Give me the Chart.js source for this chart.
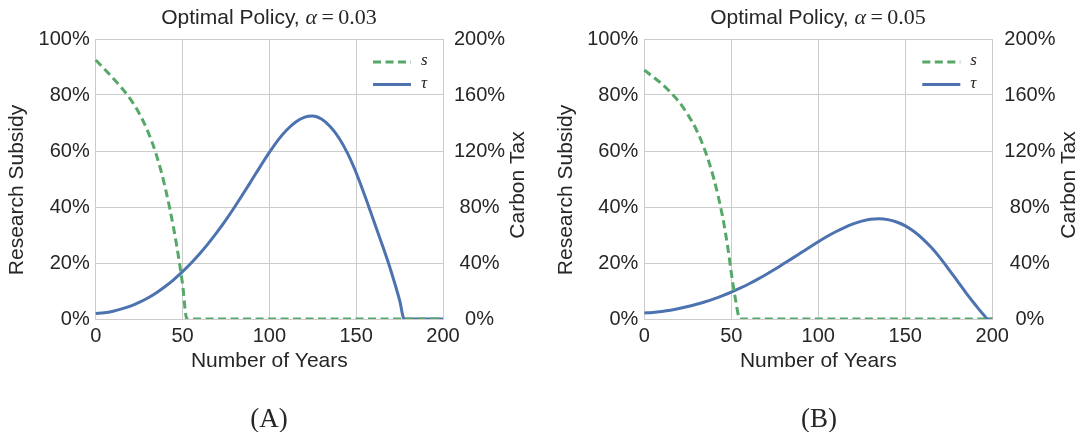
<!DOCTYPE html>
<html>
<head>
<meta charset="utf-8">
<script src="https://cdn.jsdelivr.net/npm/chart.js@4.4.1/dist/chart.umd.min.js"></script>
<style>
html,body{margin:0;padding:0;background:#fff;width:1081px;height:432px;overflow:hidden;}
.panel{position:absolute;top:0;height:432px;}
.panel canvas{position:absolute;top:0;left:0;}
.title{position:absolute;top:4px;white-space:nowrap;transform:translateX(-50%);font-family:'Liberation Sans',Arial,sans-serif;font-size:21px;color:#262626;line-height:26px;}
.title .m{font-family:'Liberation Serif','Times New Roman',serif;font-size:22px;}
.title .mi{font-family:'Liberation Serif','Times New Roman',serif;font-size:22px;font-style:italic;}
.cap{position:absolute;top:403px;transform:translateX(-50%);font-family:'Liberation Serif','Times New Roman',serif;font-size:27px;line-height:30px;color:#262626;white-space:nowrap;}
</style>
</head>
<body>
<div class="panel" id="pA" style="left:0;width:540px;"><canvas id="cA" width="540" height="432"></canvas></div>
<div class="panel" id="pB" style="left:540px;width:541px;"><canvas id="cB" width="541" height="432"></canvas></div>
<div class="title" id="tA" style="left:269px;"></div>
<div class="title" id="tB" style="left:818px;"></div>
<div class="cap" id="capA" style="left:269px;"></div>
<div class="cap" id="capB" style="left:819px;"></div>
<script>
// ---------- data ----------
const xTicks = [0, 50, 100, 150, 200];
const subsidyTicks = [0, 20, 40, 60, 80, 100];
const taxTicks = [0, 40, 80, 120, 160, 200];
const alphas = ['0.03', '0.05'];
const panelLabels = ['(A)', '(B)'];
const seriesLabels = ['s', 'τ'];
const titleText = 'Optimal Policy, ';
const xTitle = 'Number of Years';
const leftTitle = 'Research Subsidy';
const rightTitle = 'Carbon Tax';

// Panel A (alpha = 0.03)
const sYearsA = [0, 5, 10, 15, 20, 25, 30, 35, 40, 45, 48, 50, 52.5, 200];
const sValuesA = [92.5, 89.3, 86, 82.5, 78.5, 73.5, 67, 58.5, 47, 32, 21, 12.5, 0, 0];
const tauYearsA = [0, 5, 10, 15, 20, 25, 30, 35, 40, 45, 50, 55, 60, 65, 70, 75, 80, 85, 90, 95, 100,
  105, 110, 115, 120, 125, 130, 135, 140, 145, 150, 155, 160, 165, 170, 175, 177.7, 200];
const tauValuesA = [4, 4.5, 5.6, 7.2, 9.2, 11.8, 15, 18.8, 23.2, 28.2, 33.8, 40, 46.8, 54.2, 62.2, 70.8, 80, 89.6, 99.5, 109.4, 119,
  127.8, 135, 140.5, 144, 145, 142.8, 137.5, 129.5, 118.5, 104.5, 88, 70.5, 53, 34.5, 13.5, 0, 0];

// Panel B (alpha = 0.05)
const sYearsB = [0, 5, 10, 15, 20, 25, 30, 35, 40, 45, 48, 50, 52, 55, 200];
const sValuesB = [88.9, 86.5, 84, 81, 77.5, 73, 67.5, 60, 50, 36.5, 25.5, 16.5, 8.5, 0, 0];
const tauYearsB = [0, 5, 10, 15, 20, 25, 30, 35, 40, 45, 50, 55, 60, 65, 70, 75, 80, 85, 90, 95, 100,
  105, 110, 115, 120, 125, 130, 135, 140, 145, 150, 155, 160, 165, 170, 175, 180, 185, 190, 195, 197.5, 200];
const tauValuesB = [4.3, 4.7, 5.4, 6.3, 7.5, 8.9, 10.5, 12.3, 14.4, 16.7, 19.2, 22, 25, 28.3, 31.8, 35.5, 39.4, 43.3, 47.3, 51.3, 55.2,
  58.9, 62.3, 65.3, 67.9, 69.9, 71.2, 71.6, 71, 69.3, 66.5, 62.5, 57.3, 51, 43.7, 35.5, 27, 18.5, 10.5, 3, 0, 0];

// ---------- styling ----------
const FONT = "'Liberation Sans', Arial, sans-serif";
const INK = '#262626';
const GRID = '#cccccc';
const GREEN = '#55a868';
const BLUE = '#4c72b0';
Chart.defaults.font.family = FONT;
Chart.defaults.color = INK;

const zip = (xs, ys) => xs.map((x, i) => ({x, y: ys[i]}));

const innerLegend = {
  id: 'innerLegend',
  afterDatasetsDraw(chart, args, o) {
    const {ctx, chartArea} = chart;
    chart.data.datasets.forEach((ds, i) => {
      const y = chartArea.top + o.top + i * o.rowGap;
      const x0 = chartArea.right - o.right;
      ctx.save();
      ctx.strokeStyle = ds.borderColor;
      ctx.lineWidth = ds.borderWidth;
      ctx.setLineDash(ds.borderDash || []);
      ctx.beginPath(); ctx.moveTo(x0, y); ctx.lineTo(x0 + o.lineLen, y); ctx.stroke();
      ctx.setLineDash([]);
      ctx.font = o.font; ctx.fillStyle = INK;
      ctx.textAlign = 'left'; ctx.textBaseline = 'middle';
      ctx.fillText(ds.label, x0 + o.lineLen + o.gap, y - 1);
      ctx.restore();
    });
  }
};

const yTitles = {
  id: 'yTitles',
  afterDraw(chart, args, o) {
    const {ctx} = chart;
    ctx.save();
    ctx.font = o.size + 'px ' + FONT;
    ctx.fillStyle = INK;
    ctx.textAlign = 'center'; ctx.textBaseline = 'middle';
    o.items.forEach(t => {
      ctx.save(); ctx.translate(t.x, t.y); ctx.rotate(-Math.PI / 2);
      ctx.fillText(t.text, 0, 0); ctx.restore();
    });
    ctx.restore();
  }
};

function makePanel(id, sY, sV, tY, tV, L) {
  new Chart(document.getElementById(id), {
    type: 'line',
    data: {
      datasets: [
        {label: seriesLabels[0], data: zip(sY, sV), yAxisID: 'y', borderColor: GREEN, borderWidth: 3,
         borderDash: [8, 4.5], pointRadius: 0, cubicInterpolationMode: 'monotone', fill: false,
         clip: {left: 3, right: 3, top: 3, bottom: 0}},
        {label: seriesLabels[1], data: zip(tY, tV), yAxisID: 'y1', borderColor: BLUE, borderWidth: 3,
         pointRadius: 0, cubicInterpolationMode: 'monotone', fill: false,
         clip: {left: 3, right: 3, top: 3, bottom: 0}}
      ]
    },
    options: {
      responsive: false, animation: false, devicePixelRatio: 1,
      layout: {padding: {top: 39, bottom: 57, left: 0, right: 0}},
      plugins: {
        legend: {display: false}, tooltip: {enabled: false}, title: {display: false},
        innerLegend: {top: 23, rowGap: 22.5, right: 70, lineLen: 38, gap: 10,
                      font: "italic 17px 'Liberation Serif', 'Times New Roman', serif"},
        yTitles: {size: 21, items: [
          {text: leftTitle, x: L.leftTitleX, y: 190},
          {text: rightTitle, x: L.rightTitleX, y: 185}
        ]}
      },
      scales: {
        x: {
          type: 'linear', min: xTicks[0], max: xTicks[xTicks.length - 1],
          afterBuildTicks: s => { s.ticks = xTicks.map(v => ({value: v})); },
          afterFit: s => { s.height = 56; },
          grid: {color: GRID, lineWidth: 1, drawTicks: false},
          border: {display: true, color: GRID, width: 1},
          ticks: {padding: 5, font: {size: 20}, color: INK, maxRotation: 0},
          title: {display: true, text: xTitle, font: {size: 21}, color: INK, padding: {top: 0, bottom: 1}}
        },
        y: {
          type: 'linear', position: 'left', min: subsidyTicks[0], max: subsidyTicks[subsidyTicks.length - 1],
          afterBuildTicks: s => { s.ticks = subsidyTicks.map(v => ({value: v})); },
          afterFit: s => { s.width = L.yWidth; },
          grid: {color: GRID, lineWidth: 1, drawTicks: false},
          border: {display: true, color: GRID, width: 1},
          ticks: {padding: 6, font: {size: 20}, color: INK, callback: v => v + '%'}
        },
        y1: {
          type: 'linear', position: 'right', min: taxTicks[0], max: taxTicks[taxTicks.length - 1],
          afterBuildTicks: s => { s.ticks = taxTicks.map(v => ({value: v})); },
          afterFit: s => { s.width = L.y1Width; },
          grid: {display: false, drawTicks: false},
          border: {display: true, color: GRID, width: 1},
          ticks: {padding: L.y1Pad, crossAlign: 'center', font: {size: 20}, color: INK, callback: v => v + '%'}
        }
      }
    },
    plugins: [innerLegend, yTitles]
  });
}

makePanel('cA', sYearsA, sValuesA, tauYearsA, tauValuesA,
  {yWidth: 95.7, y1Width: 97, y1Pad: 11, leftTitleX: 17.7, rightTitleX: 518});
makePanel('cB', sYearsB, sValuesB, tauYearsB, tauValuesB,
  {yWidth: 104.3, y1Width: 88.7, y1Pad: 12, leftTitleX: 26, rightTitleX: 529});

function setTitle(el, a) {
  el.innerHTML = '';
  const t1 = document.createElement('span'); t1.textContent = titleText;
  const t2 = document.createElement('span'); t2.className = 'mi'; t2.textContent = 'α';
  const t3 = document.createElement('span'); t3.className = 'm'; t3.textContent = '\u2009=\u2009' + a;
  el.append(t1, t2, t3);
}
setTitle(document.getElementById('tA'), alphas[0]);
setTitle(document.getElementById('tB'), alphas[1]);
document.getElementById('capA').textContent = panelLabels[0];
document.getElementById('capB').textContent = panelLabels[1];
</script>
</body>
</html>
